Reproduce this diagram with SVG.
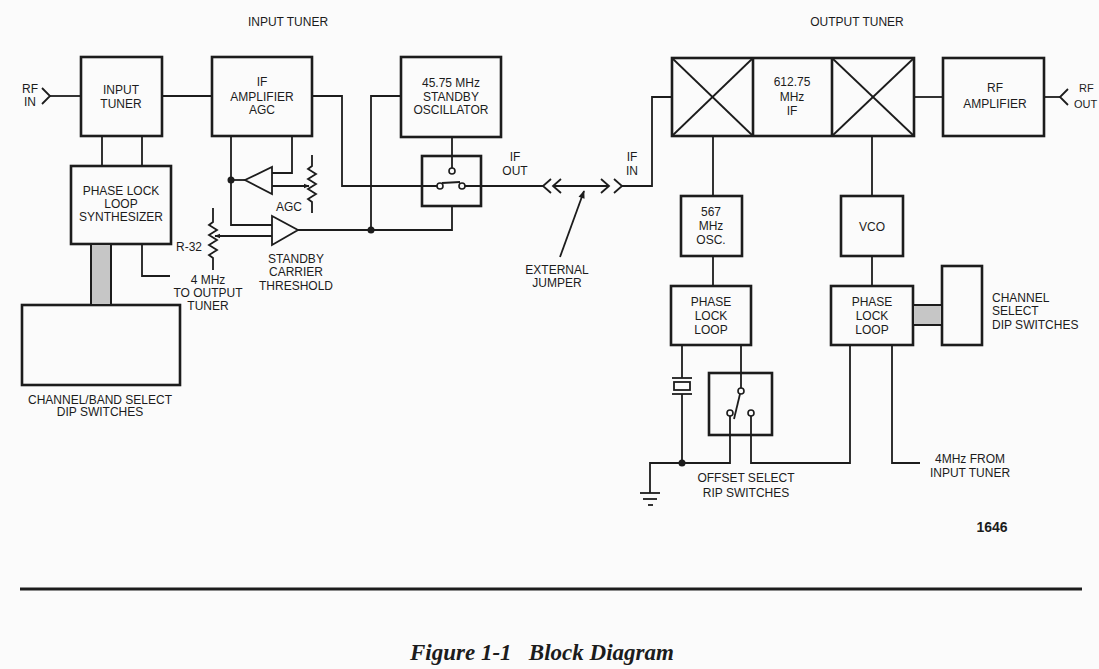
<svg xmlns="http://www.w3.org/2000/svg" width="1099" height="669" viewBox="0 0 1099 669">
<style>
.bx{fill:none;stroke:#1c1c1c;stroke-width:2.6}
.ln{fill:none;stroke:#1c1c1c;stroke-width:1.8;stroke-linejoin:miter}
.t{font-family:"Liberation Sans",Arial,sans-serif;font-size:12px;fill:#1c1c1c;text-anchor:middle}
.l{text-anchor:start}
.dot{fill:#1c1c1c}
.sh{fill:#c6c6c6;stroke:#1c1c1c;stroke-width:2}
.ct{fill:#fbfbfb;stroke:#1c1c1c;stroke-width:1.6}
</style>
<defs>
<marker id="ah" viewBox="0 0 10 10" refX="9" refY="5" markerWidth="6" markerHeight="6" orient="auto" markerUnits="userSpaceOnUse">
<path d="M0,1 L10,5 L0,9 z" fill="#1c1c1c"/>
</marker>
<marker id="ah2" viewBox="0 0 10 10" refX="9" refY="5" markerWidth="10" markerHeight="8" orient="auto" markerUnits="userSpaceOnUse">
<path d="M0,1 L10,5 L0,9 z" fill="#1c1c1c"/>
</marker>
</defs>
<rect x="0" y="0" width="1099" height="669" fill="#fbfbfb"/>

<text class="t" x="288" y="26">INPUT TUNER</text>
<text class="t" x="857" y="26">OUTPUT TUNER</text>

<g id="rf-in">
<text class="t" x="30" y="93">RF</text>
<text class="t" x="30" y="106">IN</text>
<polyline class="ln" points="42,88 50,96 42,104"/>
</g>

<g id="input-tuner">
<rect class="bx" x="81" y="57" width="81" height="79"/>
<text class="t" x="121" y="94">INPUT</text>
<text class="t" x="121" y="108">TUNER</text>
</g>

<g id="if-amplifier">
<rect class="bx" x="212" y="57" width="100" height="79"/>
<text class="t" x="262" y="86">IF</text>
<text class="t" x="262" y="101">AMPLIFIER</text>
<text class="t" x="262" y="114">AGC</text>
</g>

<g id="pll-synth">
<rect class="bx" x="71" y="166" width="100" height="78"/>
<text class="t" x="121" y="195">PHASE LOCK</text>
<text class="t" x="121" y="208">LOOP</text>
<text class="t" x="121" y="221">SYNTHESIZER</text>
</g>

<g id="channel-band-dip">
<rect class="bx" x="22" y="305" width="158" height="80"/>
<text class="t" x="100" y="404">CHANNEL/BAND SELECT</text>
<text class="t" x="100" y="416">DIP SWITCHES</text>
</g>

<g id="agc-amp">
<polygon class="ln" points="272,167 272,194 245,180"/>
</g>

<g id="agc-pot">
<polyline class="ln" points="312,155 312,166 308,169 316,174 308,179 316,184 308,189 316,194 308,199 312,202 312,213"/>
<text class="t" x="289" y="211">AGC</text>
</g>

<g id="standby-amp">
<polygon class="ln" points="272,216 272,245 298,230"/>
<text class="t" x="296" y="263">STANDBY</text>
<text class="t" x="296" y="276">CARRIER</text>
<text class="t" x="296" y="290">THRESHOLD</text>
</g>

<g id="r32">
<polyline class="ln" points="213,208 213,222 209,225 217,230 209,235 217,240 209,245 217,250 209,255 213,258 213,270"/>
<text class="t" x="189" y="251">R-32</text>
</g>

<g id="standby-osc">
<rect class="bx" x="401" y="57" width="100" height="80"/>
<text class="t" x="451" y="87">45.75 MHz</text>
<text class="t" x="451" y="101">STANDBY</text>
<text class="t" x="451" y="114">OSCILLATOR</text>
</g>

<g id="if-switch">
<rect class="bx" x="422" y="156" width="59" height="50"/>
<line class="ln" x1="442" y1="183" x2="460" y2="182"/>
<circle class="ct" cx="440" cy="186" r="3"/>
<circle class="ct" cx="462" cy="186" r="3"/>
<circle class="ct" cx="452" cy="171" r="3"/>
</g>

<g id="if-out">
<text class="t" x="515" y="161">IF</text>
<text class="t" x="515" y="175">OUT</text>
<polyline class="ln" points="551,179 543,186 551,193"/>
</g>

<g id="external-jumper">
<polyline class="ln" points="561,179 553,186 561,193"/>
<polyline class="ln" points="601,179 609,186 601,193"/>
<line class="ln" x1="553" y1="186" x2="609" y2="186"/>
<line class="ln" x1="560" y1="257" x2="584" y2="191" marker-end="url(#ah2)"/>
<text class="t" x="557" y="274">EXTERNAL</text>
<text class="t" x="557" y="287">JUMPER</text>
</g>

<g id="if-in">
<polyline class="ln" points="614,179 622,186 614,193"/>
<text class="t" x="632" y="161">IF</text>
<text class="t" x="632" y="175">IN</text>
</g>

<g id="mixer-if">
<rect class="bx" x="672" y="58" width="242" height="78"/>
<line class="bx" x1="753" y1="58" x2="753" y2="136"/>
<line class="bx" x1="832" y1="58" x2="832" y2="136"/>
<line class="ln" x1="672" y1="58" x2="753" y2="136"/>
<line class="ln" x1="753" y1="58" x2="672" y2="136"/>
<line class="ln" x1="832" y1="58" x2="914" y2="136"/>
<line class="ln" x1="914" y1="58" x2="832" y2="136"/>
<text class="t" x="792" y="86">612.75</text>
<text class="t" x="792" y="101">MHz</text>
<text class="t" x="792" y="115">IF</text>
</g>

<g id="rf-amplifier">
<rect class="bx" x="943" y="58" width="101" height="78"/>
<text class="t" x="995" y="92">RF</text>
<text class="t" x="995" y="108">AMPLIFIER</text>
</g>

<g id="rf-out">
<polyline class="ln" points="1068,89 1060,97 1068,105"/>
<text class="t l" x="1079" y="92" style="font-size:11px">RF</text>
<text class="t l" x="1074" y="108" style="font-size:11px">OUT</text>
</g>

<g id="osc-567">
<rect class="bx" x="681" y="196" width="61" height="60"/>
<text class="t" x="711" y="216">567</text>
<text class="t" x="711" y="230">MHz</text>
<text class="t" x="711" y="244">OSC.</text>
</g>

<g id="vco">
<rect class="bx" x="841" y="196" width="62" height="60"/>
<text class="t" x="872" y="231">VCO</text>
</g>

<g id="pll-left">
<rect class="bx" x="671" y="286" width="80" height="59"/>
<text class="t" x="711" y="306">PHASE</text>
<text class="t" x="711" y="320">LOCK</text>
<text class="t" x="711" y="334">LOOP</text>
</g>

<g id="pll-right">
<rect class="bx" x="831" y="286" width="82" height="59"/>
<text class="t" x="872" y="306">PHASE</text>
<text class="t" x="872" y="320">LOCK</text>
<text class="t" x="872" y="334">LOOP</text>
</g>

<g id="channel-select-dip">
<rect class="bx" x="942" y="266" width="40" height="79"/>
<text class="t l" x="992" y="302">CHANNEL</text>
<text class="t l" x="992" y="315">SELECT</text>
<text class="t l" x="992" y="329">DIP SWITCHES</text>
</g>

<g id="crystal">
<line class="ln" x1="672" y1="378" x2="692" y2="378"/>
<rect class="ln" x="674" y="382" width="16" height="8"/>
<line class="ln" x1="672" y1="394" x2="692" y2="394"/>
</g>

<g id="offset-switch">
<rect class="bx" x="709" y="373" width="63" height="62"/>
<line class="ln" x1="734" y1="419" x2="740" y2="394"/>
<circle class="ct" cx="730" cy="413" r="3"/>
<circle class="ct" cx="751" cy="413" r="3"/>
<circle class="ct" cx="741" cy="391" r="3"/>
<text class="t" x="746" y="482">OFFSET SELECT</text>
<text class="t" x="746" y="497">RIP SWITCHES</text>
</g>

<g id="ground">
<line class="ln" x1="640" y1="493" x2="660" y2="493"/>
<line class="ln" x1="643" y1="499" x2="657" y2="499"/>
<line class="ln" x1="648" y1="505" x2="653" y2="505"/>
</g>

<g id="from-input-tuner">
<text class="t" x="970" y="463">4MHz FROM</text>
<text class="t" x="970" y="477">INPUT TUNER</text>
</g>

<g id="to-output-tuner">
<text class="t" x="208" y="284">4 MHz</text>
<text class="t" x="208" y="297">TO OUTPUT</text>
<text class="t" x="208" y="310">TUNER</text>
</g>

<g id="connectors">
<line class="ln" x1="50" y1="96" x2="81" y2="96"/>
<line class="ln" x1="162" y1="96" x2="212" y2="96"/>
<polyline class="ln" points="312,96 342,96 342,186 437,186"/>
<line class="ln" x1="102" y1="136" x2="102" y2="166"/>
<line class="ln" x1="142" y1="136" x2="142" y2="166"/>
<rect class="sh" x="91" y="244" width="20" height="61"/>
<polyline class="ln" points="142,244 142,276 170,276"/>
<polyline class="ln" points="231,136 231,225 272,225"/>
<polyline class="ln" points="292,136 292,173 272,173"/>
<line class="ln" x1="245" y1="180" x2="231" y2="180"/>
<line class="ln" x1="272" y1="186" x2="309" y2="186" marker-end="url(#ah)"/>
<line class="ln" x1="272" y1="236" x2="215" y2="236" marker-end="url(#ah)"/>
<polyline class="ln" points="298,230 452,230 452,206"/>
<polyline class="ln" points="371,230 371,96 401,96"/>
<line class="ln" x1="452" y1="137" x2="452" y2="168"/>
<line class="ln" x1="465" y1="186" x2="543" y2="186"/>
<polyline class="ln" points="622,186 652,186 652,97 672,97"/>
<line class="ln" x1="914" y1="97" x2="943" y2="97"/>
<line class="ln" x1="1044" y1="97" x2="1060" y2="97"/>
<line class="ln" x1="713" y1="136" x2="713" y2="196"/>
<line class="ln" x1="713" y1="256" x2="713" y2="286"/>
<line class="ln" x1="872" y1="136" x2="872" y2="196"/>
<line class="ln" x1="872" y1="256" x2="872" y2="286"/>
<rect class="sh" x="913" y="305" width="29" height="20"/>
<line class="ln" x1="682" y1="345" x2="682" y2="378"/>
<line class="ln" x1="682" y1="394" x2="682" y2="463"/>
<line class="ln" x1="741" y1="345" x2="741" y2="388"/>
<polyline class="ln" points="730,416 730,463 650,463 650,493"/>
<polyline class="ln" points="751,416 751,463 850,463 850,345"/>
<polyline class="ln" points="892,345 892,463 920,463"/>
<circle class="dot" cx="231" cy="180" r="3.5"/>
<circle class="dot" cx="371" cy="230" r="3.5"/>
<circle class="dot" cx="682" cy="463" r="3.5"/>
</g>

<text x="992" y="532" style="font-family:'Liberation Sans',Arial,sans-serif;font-size:14px;font-weight:bold;fill:#1c1c1c;text-anchor:middle">1646</text>
<line x1="20" y1="589" x2="1082" y2="589" stroke="#1c1c1c" stroke-width="3"/>
<text x="410" y="660" style="font-family:'Liberation Serif','Times New Roman',serif;font-size:23px;font-style:italic;font-weight:bold;fill:#1c1c1c" xml:space="preserve">Figure 1-1   Block Diagram</text>
</svg>
